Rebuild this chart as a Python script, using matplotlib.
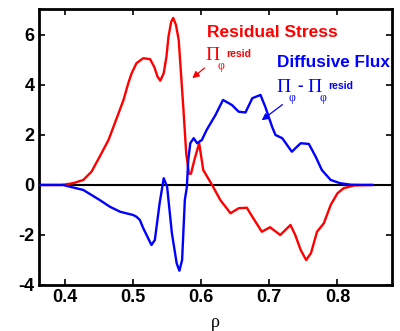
import matplotlib
matplotlib.use('Agg')
from matplotlib import pyplot as plt

# radius values and fluxes
rho_resid = [0.362, 0.395, 0.412, 0.427, 0.439, 0.451, 0.464, 0.476, 0.486, 0.493,
             0.498, 0.505, 0.515, 0.525, 0.531, 0.536, 0.540, 0.545, 0.549, 0.552,
             0.556, 0.559, 0.563, 0.567, 0.570, 0.574, 0.578, 0.582, 0.585, 0.590,
             0.597, 0.603, 0.616, 0.628, 0.643, 0.655, 0.667, 0.675, 0.689, 0.701,
             0.716, 0.731, 0.738, 0.746, 0.754, 0.761, 0.770, 0.780, 0.790, 0.800,
             0.809, 0.824, 0.851]
resid = [0.0, 0.0, 0.07, 0.2, 0.53, 1.13, 1.8, 2.67, 3.4, 4.07,
         4.47, 4.87, 5.07, 5.03, 4.73, 4.33, 4.17, 4.47, 5.13, 5.93,
         6.53, 6.68, 6.4, 5.8, 4.6, 3.0, 1.27, 0.45, 0.45, 1.0,
         1.67, 0.6, 0.0, -0.6, -1.13, -0.93, -0.91, -1.27, -1.87, -1.69,
         -2.0, -1.6, -2.0, -2.6, -3.0, -2.73, -1.87, -1.53, -0.8, -0.33,
         -0.13, -0.02, 0.0]

rho_diff = [0.362, 0.397, 0.427, 0.451, 0.466, 0.481, 0.5, 0.505, 0.51, 0.515,
            0.527, 0.532, 0.539, 0.545, 0.55, 0.557, 0.564, 0.568, 0.572, 0.576,
            0.579, 0.581, 0.584, 0.589, 0.594, 0.601, 0.608, 0.621, 0.632, 0.645,
            0.655, 0.665, 0.675, 0.687, 0.694, 0.704, 0.709, 0.719, 0.733, 0.746,
            0.758, 0.768, 0.777, 0.790, 0.804, 0.820, 0.851]
diff = [0.0, 0.0, -0.2, -0.6, -0.87, -1.07, -1.2, -1.27, -1.4, -1.73,
        -2.4, -2.2, -0.73, 0.27, -0.07, -1.93, -3.13, -3.43, -3.0, -0.6,
        -0.07, 1.0, 1.67, 1.87, 1.67, 1.8, 2.2, 2.8, 3.4, 3.2,
        2.93, 2.9, 3.47, 3.6, 3.13, 2.33, 2.0, 1.87, 1.33, 1.67,
        1.64, 1.13, 0.6, 0.2, 0.07, 0.01, 0.0]

xticks = [0.4, 0.5, 0.6, 0.7, 0.8]
yticks = [-4, -2, 0, 2, 4, 6]

fig = plt.figure(figsize=(4.0, 3.31), dpi=100)
ax = fig.add_axes([0.0975, 0.139, 0.8825, 0.834])

ax.axhline(0, color='black', lw=1.5, zorder=1)
ax.plot(rho_resid, resid, color='red', lw=1.7, zorder=2,
        solid_joinstyle='round')
ax.plot(rho_diff, diff, color='blue', lw=1.7, zorder=3,
        solid_joinstyle='round')

ax.set_xlim(0.362, 0.88)
ax.set_ylim(-4, 7.04)
ax.set_xticks(xticks)
ax.set_xticklabels([str(t) for t in xticks])
ax.set_yticks(yticks)
ax.set_yticklabels([str(t) for t in yticks])
ax.tick_params(direction='in', length=4, width=1.2, top=True, right=True,
               labelsize=13, pad=3)
for lab in ax.get_xticklabels() + ax.get_yticklabels():
    lab.set_fontfamily('Liberation Sans')
    lab.set_fontweight('bold')
for sp in ax.spines.values():
    sp.set_linewidth(2)

ax.set_xlabel('ρ', family='Liberation Serif', fontsize=13, labelpad=6)

sans = 'Liberation Sans'
serif = 'Liberation Serif'
# residual stress label
ax.text(0.6088, 5.92, 'Residual Stress', color='red', family=sans,
        weight='bold', fontsize=12.5, va='baseline')
ax.text(0.6055, 5.0, 'Π', color='red', family=serif, fontsize=14, va='baseline')
ax.text(0.624, 4.65, 'φ', color='red', family=serif, fontsize=8.5, va='baseline')
ax.text(0.6365, 5.1, 'resid', color='red', family=sans, weight='bold',
        fontsize=7.5, va='baseline')
ax.annotate('', xy=(0.5838, 4.2), xytext=(0.608, 4.75),
            arrowprops=dict(arrowstyle='-|>', color='red', lw=0.9,
                            mutation_scale=10))

# diffusive flux label
ax.text(0.7115, 4.7, 'Diffusive Flux', color='blue', family=sans,
        weight='bold', fontsize=12.3, va='baseline')
ax.text(0.7105, 3.72, 'Π', color='blue', family=serif, fontsize=14, va='baseline')
ax.text(0.7285, 3.35, 'φ', color='blue', family=serif, fontsize=8.5, va='baseline')
ax.text(0.7415, 3.8, '-', color='blue', family=sans, weight='bold',
        fontsize=12, va='baseline')
ax.text(0.7555, 3.72, 'Π', color='blue', family=serif, fontsize=14, va='baseline')
ax.text(0.7735, 3.35, 'φ', color='blue', family=serif, fontsize=8.5, va='baseline')
ax.text(0.7865, 3.85, 'resid', color='blue', family=sans, weight='bold',
        fontsize=7.5, va='baseline')
ax.annotate('', xy=(0.6855, 2.52), xytext=(0.7225, 3.28),
            arrowprops=dict(arrowstyle='-|>', color='blue', lw=0.9,
                            mutation_scale=10))

fig.savefig('out.png', dpi=100)
